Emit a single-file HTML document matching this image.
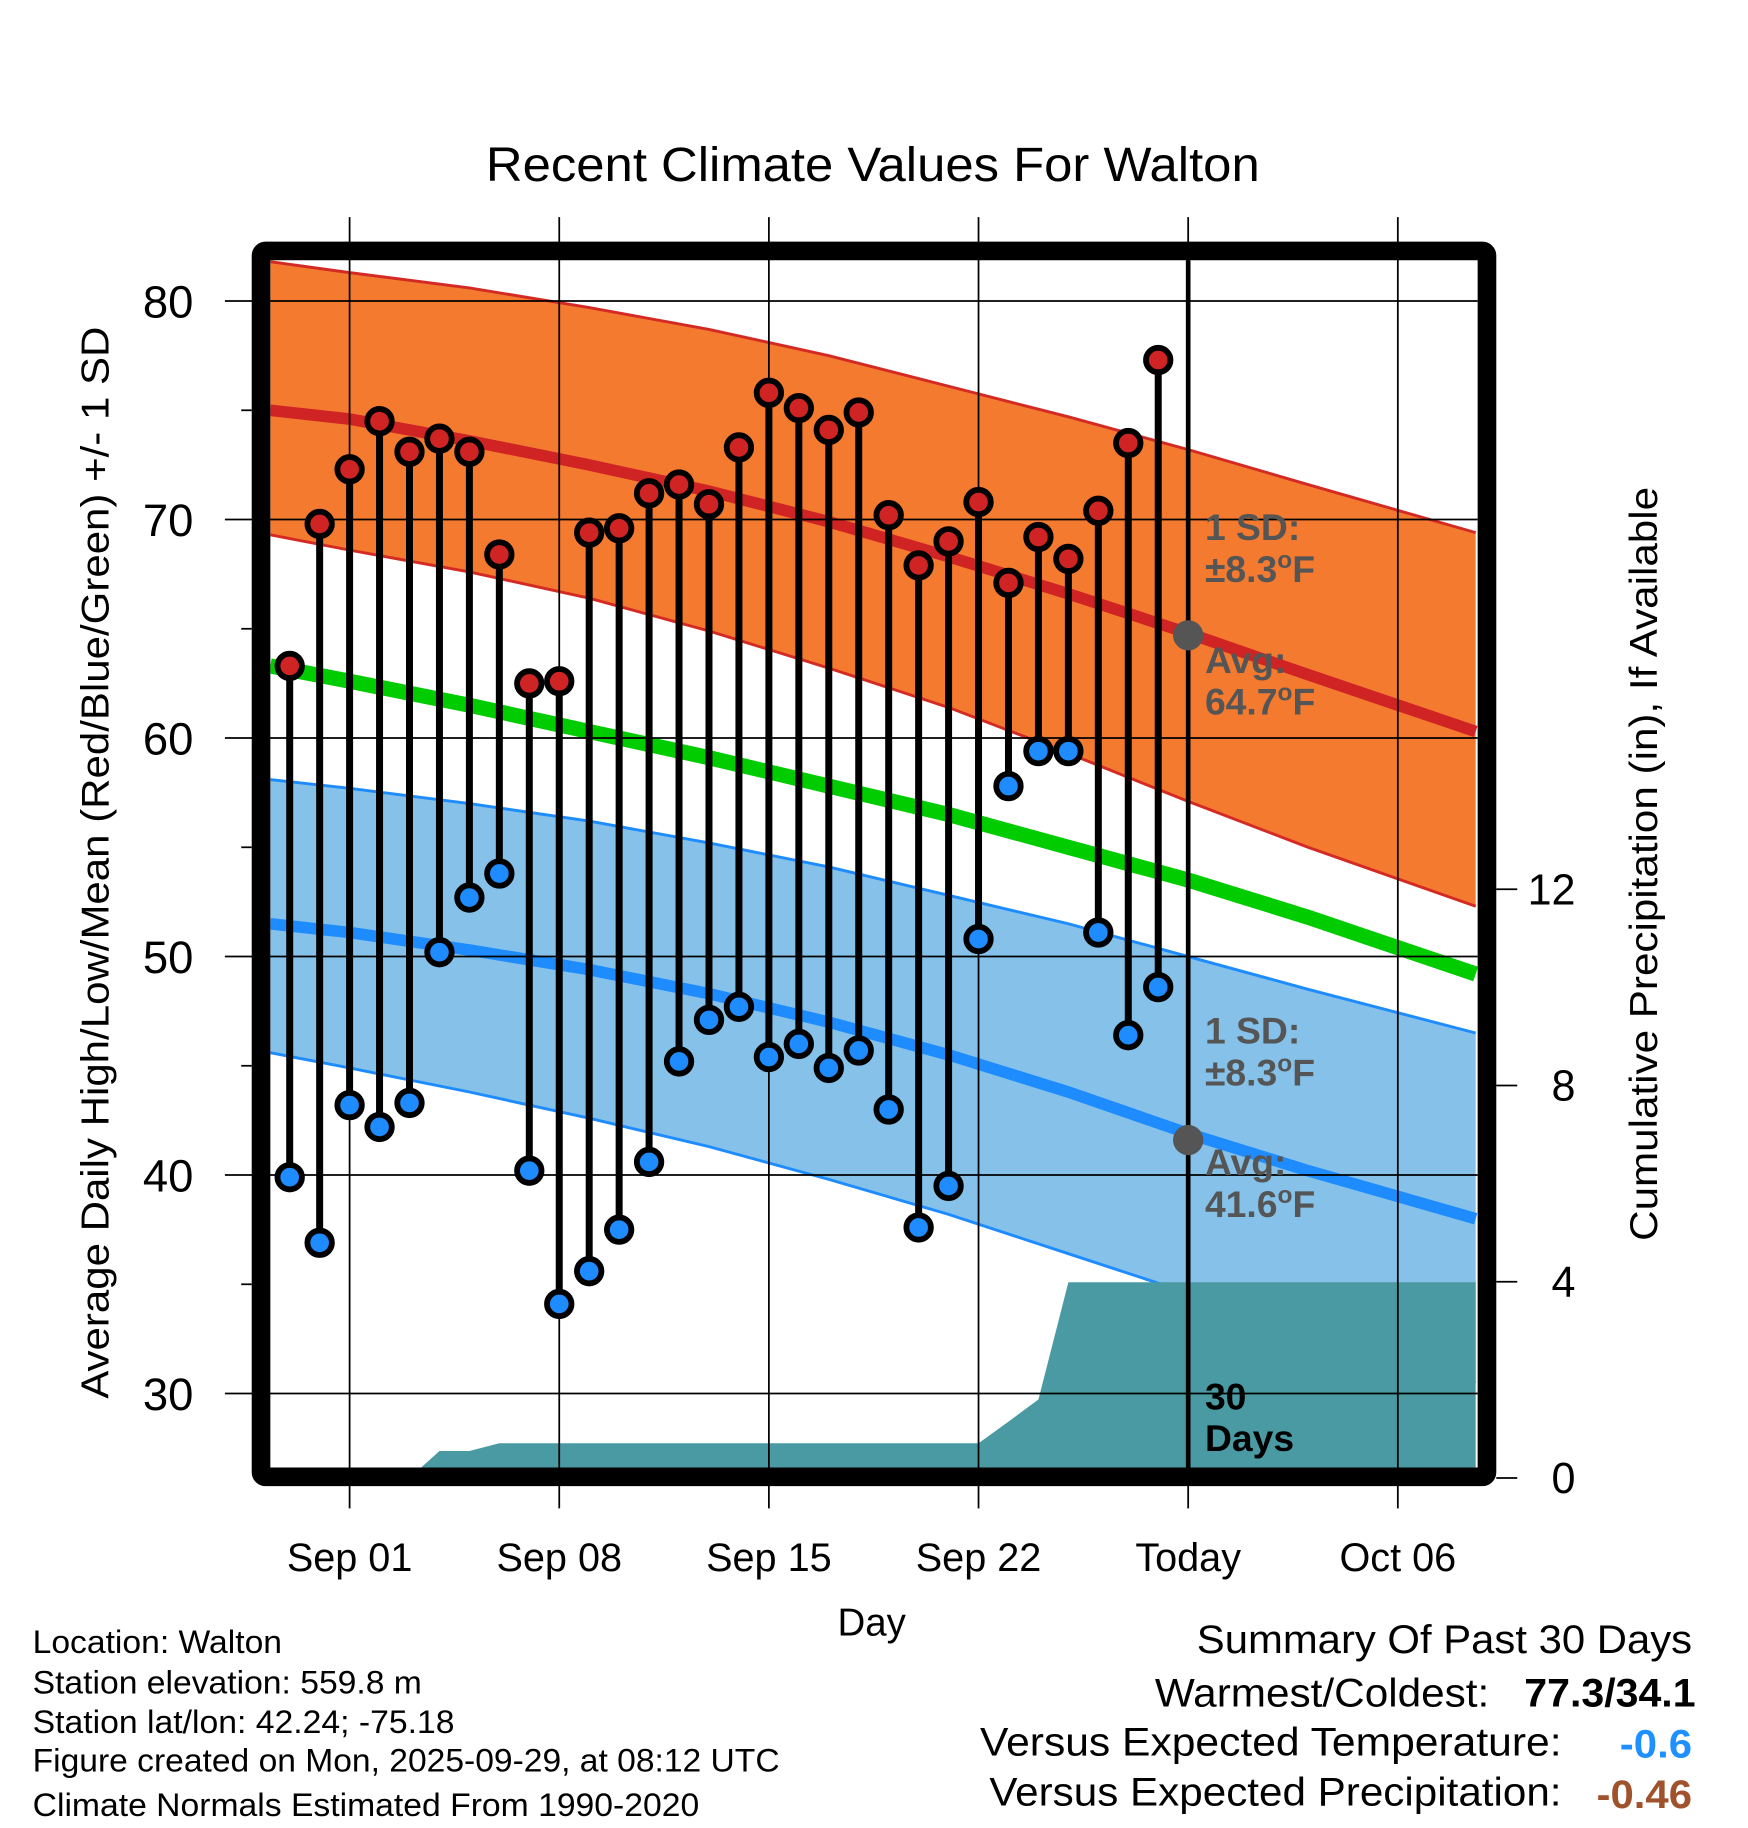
<!DOCTYPE html>
<html><head><meta charset="utf-8"><style>
html,body{margin:0;padding:0;background:#fff}
svg{display:block;font-family:"Liberation Sans",sans-serif}
</style></head><body>
<svg id="chart" width="1748" height="1828" viewBox="0 0 1500 1568" xmlns="http://www.w3.org/2000/svg">
<text x="749" y="155" font-size="41" text-anchor="middle" textLength="664" lengthAdjust="spacingAndGlyphs">Recent Climate Values For Walton</text>
<g id="plot"></g>
<text transform="translate(93,740) rotate(-90)" font-size="33" text-anchor="middle" textLength="920" lengthAdjust="spacingAndGlyphs">Average Daily High/Low/Mean (Red/Blue/Green) +/- 1 SD</text>
<text transform="translate(1422,741) rotate(-90)" font-size="33" text-anchor="middle" textLength="647" lengthAdjust="spacingAndGlyphs">Cumulative Precipitation (in), If Available</text>
<text x="748" y="1403" font-size="33" text-anchor="middle">Day</text>
<g font-size="28" lengthAdjust="spacingAndGlyphs">
<text x="28" y="1418" textLength="214" lengthAdjust="spacingAndGlyphs">Location: Walton</text>
<text x="28" y="1453" textLength="334" lengthAdjust="spacingAndGlyphs">Station elevation: 559.8 m</text>
<text x="28" y="1487" textLength="362" lengthAdjust="spacingAndGlyphs">Station lat/lon: 42.24; -75.18</text>
<text x="28" y="1520" textLength="641" lengthAdjust="spacingAndGlyphs">Figure created on Mon, 2025-09-29, at 08:12 UTC</text>
<text x="28" y="1558" textLength="572" lengthAdjust="spacingAndGlyphs">Climate Normals Estimated From 1990-2020</text>
</g>
<g font-size="34">
<text x="1027" y="1418" textLength="425" lengthAdjust="spacingAndGlyphs">Summary Of Past 30 Days</text>
<text x="991" y="1464" textLength="287" lengthAdjust="spacingAndGlyphs">Warmest/Coldest:</text>
<text x="1308" y="1464" font-weight="bold" textLength="147" lengthAdjust="spacingAndGlyphs">77.3/34.1</text>
<text x="841" y="1506" textLength="499" lengthAdjust="spacingAndGlyphs">Versus Expected Temperature:</text>
<text x="1390" y="1508" font-weight="bold" fill="#1e90ff" textLength="62" lengthAdjust="spacingAndGlyphs">-0.6</text>
<text x="849" y="1549" textLength="491" lengthAdjust="spacingAndGlyphs">Versus Expected Precipitation:</text>
<text x="1370" y="1551" font-weight="bold" fill="#a0522d" textLength="82" lengthAdjust="spacingAndGlyphs">-0.46</text>
</g>
</svg>
<script>
const highs=[63.3,69.8,72.3,74.5,73.1,73.7,73.1,68.4,62.5,62.6,69.4,69.6,71.2,71.6,70.7,73.3,75.8,75.1,74.1,74.9,70.2,67.9,69.0,70.8,67.1,69.2,68.2,70.4,73.5,77.3];
const lows=[39.9,36.9,43.2,42.2,43.3,50.2,52.7,53.8,40.2,34.1,35.6,37.5,40.6,45.2,47.1,47.7,45.4,46.0,44.9,45.7,43.0,37.6,39.5,50.8,57.8,59.4,59.4,51.1,46.4,48.6];
const normDays=[-2.65,0,4,8,12,16,20,24,28,32,37.6];
const hiAvg=[75.0,74.6,73.6,72.5,71.3,69.9,68.3,66.6,64.8,62.9,60.3];
const hiUp=[81.8,81.3,80.6,79.7,78.7,77.5,76.1,74.7,73.2,71.6,69.4];
const hiLo=[69.3,68.6,67.6,66.4,64.9,63.2,61.4,59.3,57.1,55.0,52.3];
const meanT=[63.3,62.6,61.5,60.3,59.1,57.8,56.5,55.0,53.5,51.8,49.2];
const loAvg=[51.5,51.1,50.3,49.4,48.3,47.0,45.5,43.8,41.9,40.2,38.0];
const loUp=[58.1,57.7,57.0,56.2,55.2,54.1,52.8,51.5,50.0,48.5,46.5];
const loLo=[45.6,44.9,43.8,42.6,41.3,39.8,38.2,36.4,34.6,32.8,30.5];
const precipDays=[2,3,4,5,21,22,23,24,37.6];
const precipVals=[0,0.55,0.55,0.71,0.71,1.15,1.6,3.99,3.99];
const yTicks=[30,40,50,60,70,80];
const pTicks=[0,4,8,12];
const xTickDays=[0,7,14,21,28,35];
const xTickLabels=["Sep 01","Sep 08","Sep 15","Sep 22","Today","Oct 06"];
const todayDay=28, todayHi=64.7, todayLo=41.6;

const NS="http://www.w3.org/2000/svg";
const L=232,R=1268,T=223,B=1260;
const x=d=>300+d*25.7;
const y=t=>258+(80-t)*18.75;
const yp=p=>1268-p*42.1;
const g=document.getElementById('plot');
function mk(tag,attrs,parent){const e=document.createElementNS(NS,tag);for(const k in attrs)e.setAttribute(k,attrs[k]);(parent||g).appendChild(e);return e;}
const clip=mk('clipPath',{id:'cp'});mk('rect',{x:L,y:T,width:R-L,height:B-T},clip);
const inner=mk('g',{'clip-path':'url(#cp)'});
function pts(arr){return normDays.map((d,i)=>x(d)+','+y(arr[i])).join(' ');}
function band(up,lo,fill,edge,name){
  const p=mk('polygon',{points:pts(up)+' '+normDays.slice().reverse().map((d,i)=>x(d)+','+y(lo[lo.length-1-i])).join(' '),fill:fill},inner);
  
  
  [up,lo].forEach(a=>{const l=mk('polyline',{points:pts(a),fill:'none',stroke:edge,'stroke-width':2.5},inner);
    
    });
}
band(hiUp,hiLo,'#f47a30','#d42a24','high-sd-band');
band(loUp,loLo,'#85c1e8','#1e8cff','low-sd-band');
function line(arr,col,w,name){const l=mk('polyline',{points:pts(arr),fill:'none',stroke:col,'stroke-width':w},inner);
  
  }
line(hiAvg,'#d02424',10,'normal-high-line');
line(meanT,'#00cc00',13,'normal-mean-line');
line(loAvg,'#1e8cff',10,'normal-low-line');
let pp=x(precipDays[0])+','+yp(0)+' '+precipDays.map((d,i)=>x(d)+','+yp(precipVals[i])).join(' ')+' '+x(precipDays[precipDays.length-1])+','+yp(0);
const pa=mk('polygon',{points:pp,fill:'#4a9aa3'},inner);


yTicks.forEach(t=>{const l=mk('line',{x1:193,x2:R,y1:y(t),y2:y(t),stroke:'#000','stroke-width':1.5});
  
  
  const tx=mk('text',{x:166,y:y(t)+14,'font-size':39,'text-anchor':'end'});tx.textContent=t;
  
  });
for(let t=25;t<=80;t+=10){if(y(t)>T&&y(t)<B){const l=mk('line',{x1:207,x2:216,y1:y(t),y2:y(t),stroke:'#000','stroke-width':1.5});
  
  }}
xTickDays.forEach((d,i)=>{const l=mk('line',{x1:x(d),x2:x(d),y1:186,y2:1294,stroke:'#000','stroke-width':1.5});
  
  
  const tx=mk('text',{x:x(d),y:1348,'font-size':34,'text-anchor':'middle'});tx.textContent=xTickLabels[i];
  
  });
pTicks.forEach(p=>{const l=mk('line',{x1:1284,x2:1302,y1:yp(p),y2:yp(p),stroke:'#000','stroke-width':1.5});
  
  
  const tx=mk('text',{x:1352,y:yp(p)+13,'font-size':37,'text-anchor':'end'});tx.textContent=p;
  
  });
const tl=mk('line',{x1:x(todayDay),x2:x(todayDay),y1:T,y2:B,stroke:'#000','stroke-width':4});


highs.forEach((h,i)=>{const d=i-2;
  const s=mk('line',{x1:x(d),x2:x(d),y1:y(h),y2:y(lows[i]),stroke:'#000','stroke-width':6});
  
  });
highs.forEach((h,i)=>{const d=i-2;
  const c1=mk('circle',{cx:x(d),cy:y(h),r:10.5,fill:'#d02424',stroke:'#000','stroke-width':5});
  
  
  const c2=mk('circle',{cx:x(d),cy:y(lows[i]),r:10.5,fill:'#1e8cff',stroke:'#000','stroke-width':5});
  
  });
[[todayHi,'today-high-normal-dot'],[todayLo,'today-low-normal-dot']].forEach(([v,n])=>{
  const c=mk('circle',{cx:x(todayDay),cy:y(v),r:13,fill:'#555'});
  
  });
function ann(lines,yy,col,name){const t=mk('text',{x:1034,y:yy,'font-size':32,'font-weight':'bold',fill:col});
  
  
  lines.forEach((s,i)=>{const ts=mk('tspan',{x:1034,dy:i?36:0},t);ts.innerHTML=s;});}
const deg='<tspan dy="-12" font-size="21">o</tspan><tspan dy="12">F</tspan>';
ann(['1 SD:','±8.3'+deg],463,'#555','high-sd-label');
ann(['Avg:',todayHi.toFixed(1)+deg],577,'#555','high-avg-label');
ann(['1 SD:','±8.3'+deg],895,'#555','low-sd-label');
ann(['Avg:',todayLo.toFixed(1)+deg],1008,'#555','low-avg-label');
ann(['30','Days'],1209,'#000','days-label');
const fr=mk('rect',{x:224,y:215,width:1052,height:1052,fill:'none',stroke:'#000','stroke-width':16,rx:4});


</script>
</body></html>
